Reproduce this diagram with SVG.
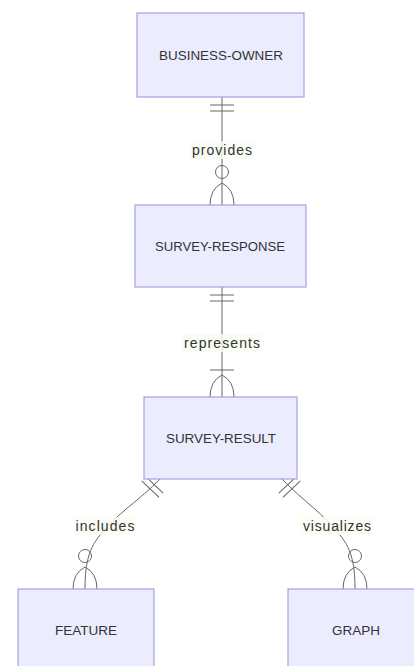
<svg xmlns="http://www.w3.org/2000/svg" width="414" height="666" viewBox="0 0 414 666">
<style>
.node rect{fill:#ECECFF;stroke:#ab9fe0;stroke-width:1.2}
.node text{font-family:"Liberation Sans","DejaVu Sans",sans-serif;font-size:13px;fill:#333;text-anchor:middle;dominant-baseline:central}
.rel{fill:none;stroke:#666;stroke-width:1}
.lblbg{fill:#f9fdf0;opacity:0.8}
.lbl{font-family:"Liberation Sans","DejaVu Sans",sans-serif;font-size:14px;fill:#333;text-anchor:middle;dominant-baseline:central}
.mk{fill:none;stroke:#666;stroke-width:1}
</style>
<defs>
<marker id="onlyOne" markerUnits="userSpaceOnUse" viewBox="-2 -14 40 28" refX="0" refY="0" markerWidth="40" markerHeight="28" orient="auto" overflow="visible">
<path class="mk" d="M8,-12 L8,12 M14,-12 L14,12"/>
</marker>
<marker id="zeroMany" markerUnits="userSpaceOnUse" viewBox="-42 -14 44 28" refX="0" refY="0" markerWidth="44" markerHeight="28" orient="auto" overflow="visible">
<circle class="mk" cx="-33" cy="0" r="6.5" fill="#fff"/>
<path class="mk" d="M0,-12 Q-16,-12 -22,0 Q-16,12 0,12"/>
</marker>
<marker id="oneMany" markerUnits="userSpaceOnUse" viewBox="-42 -14 44 28" refX="0" refY="0" markerWidth="44" markerHeight="28" orient="auto" overflow="visible">
<path class="mk" d="M-27,-12 L-27,12"/>
<path class="mk" d="M0,-12 Q-16,-12 -22,0 Q-16,12 0,12"/>
</marker>
</defs>
<g id="connectors">
<path class="rel" d="M222,97 L222,205" marker-start="url(#onlyOne)" marker-end="url(#zeroMany)"/>
<path class="rel" d="M222,287 L222,397" marker-start="url(#onlyOne)" marker-end="url(#oneMany)"/>
<path class="rel" d="M160,479 C140,500 115,515 100,535 C90,548 85,560 85,589" marker-start="url(#onlyOne)" marker-end="url(#zeroMany)"/>
<path class="rel" d="M282,479 C302,500 325,515 340,535 C350,548 355,560 355,589" marker-start="url(#onlyOne)" marker-end="url(#zeroMany)"/>
<rect class="lblbg" x="190" y="141" width="63" height="18"/>
<text class="lbl" x="222" y="150" textLength="60" lengthAdjust="spacing">provides</text>
<rect class="lblbg" x="182" y="334" width="80" height="18"/>
<text class="lbl" x="222" y="343" textLength="76" lengthAdjust="spacing">represents</text>
<rect class="lblbg" x="74" y="517" width="62" height="18"/>
<text class="lbl" x="105" y="526" textLength="59" lengthAdjust="spacing">includes</text>
<rect class="lblbg" x="301" y="517" width="72" height="18"/>
<text class="lbl" x="337" y="526" textLength="68" lengthAdjust="spacing">visualizes</text>
</g>
<g id="BUSINESS-OWNER" class="node">
<rect x="137" y="13" width="167" height="84"/>
<text x="221" y="55" textLength="124" lengthAdjust="spacingAndGlyphs">BUSINESS-OWNER</text>
</g>
<g id="SURVEY-RESPONSE" class="node">
<rect x="135" y="205" width="171" height="82"/>
<text x="220" y="246" textLength="130" lengthAdjust="spacingAndGlyphs">SURVEY-RESPONSE</text>
</g>
<g id="SURVEY-RESULT" class="node">
<rect x="144" y="397" width="153" height="82"/>
<text x="221" y="438" textLength="110" lengthAdjust="spacingAndGlyphs">SURVEY-RESULT</text>
</g>
<g id="FEATURE" class="node">
<rect x="18" y="589" width="136" height="90"/>
<text x="86" y="630" textLength="62" lengthAdjust="spacingAndGlyphs">FEATURE</text>
</g>
<g id="GRAPH" class="node">
<rect x="288" y="589" width="136" height="90"/>
<text x="356" y="630" textLength="48" lengthAdjust="spacingAndGlyphs">GRAPH</text>
</g>
</svg>
